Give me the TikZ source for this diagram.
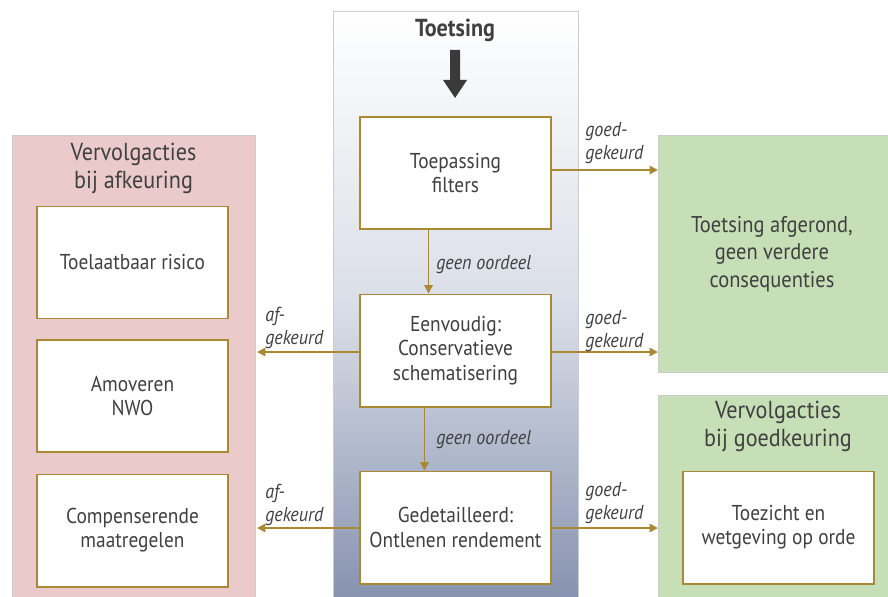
\documentclass[tikz,border=0pt]{standalone}
\usepackage{fontspec}
\setmainfont{PT Sans}[FakeStretch=0.9]
\usepackage{tikz}
\usetikzlibrary{arrows.meta, calc, positioning}
\definecolor{gold}{RGB}{169, 137, 52}
\definecolor{pinkpanel}{RGB}{235, 202, 203}
\definecolor{greenpanel}{RGB}{198, 223, 182}
\definecolor{panelline}{RGB}{205, 205, 205}
\definecolor{darktext}{RGB}{64, 64, 64}
\definecolor{bluegray}{RGB}{134, 146, 175}

\begin{document}
\begin{tikzpicture}[x=0.025cm, y=-0.025cm, line join=miter, >={Triangle[length=6pt,width=6pt]},
    font=\fontsize{15.3}{17.2}\selectfont, text=darktext,
    stepbox/.style={draw=gold, line width=1.4pt, fill=white, minimum width=4.775cm, minimum height=2.8cm, align=center, inner sep=0pt},
    flow/.style={->, gold, line width=1.3pt},
    flowlabel/.style={font=\fontsize{14.3}{16.2}\selectfont\itshape, align=left, inner sep=0pt},
    paneltitle/.style={font=\fontsize{17.5}{19.4}\selectfont, align=center}]
    	\useasboundingbox (0,0) rectangle (888,597);
    	
    	% panels
		\draw [panelline, fill=pinkpanel] (12,135) rectangle (255,600);
		\shade [top color=white, bottom color=bluegray, middle color={rgb,255:red,218;green,222;blue,232}] (333,11) rectangle (578,600);
		\draw [panelline] (333,11) rectangle (578,600);
		\draw [panelline, fill=greenpanel] (658,135) rectangle (891,372);
		\draw [panelline, fill=greenpanel] (658,395) rectangle (891,600);
		
		% middle column
		\node (toetsing) [font=\fontsize{17.5}{19}\selectfont\bfseries] at (455,30) {Toetsing};
		\fill [darktext!90!black] (450,50) -- (460,50) -- (460,80) -- (467,80) -- (455,98) -- (443,80) -- (450,80) -- cycle;
		
		\node (filters) [stepbox] at (455.5,173) {Toepassing\\filters};
		\node (simple) [stepbox] at (455.5,350.5) {Eenvoudig:\\Conservatieve\\schematisering};
		\node (detail) [stepbox] at (455.5,527.5) {Gedetailleerd:\\Ontlenen rendement};
		
		% left column
		\node (afkeur) [paneltitle] at (133.5,168.5) {Vervolgacties\\bij afkeuring};
		\node (risico) [stepbox] at (132.5,262.5) {Toelaatbaar risico};
		\node (amoveren) [stepbox] at (132.5,396) {Amoveren\\NWO};
		\node (compens) [stepbox] at (132.5,530.5) {Compenserende\\maatregelen};
		
		% right column
		\node (afgerond) [font=\fontsize{16.2}{19.5}\selectfont, align=center] at (772,254) {Toetsing afgerond,\\geen verdere\\consequenties};
		\node (goedkeur) [paneltitle] at (778,426.5) {Vervolgacties\\bij goedkeuring};
		\node (toezicht) [stepbox] at (778.5,527.5) {Toezicht en\\wetgeving op orde};
		
		\coordinate (leftend1) at (257,352);
		\coordinate (leftend2) at (257,528);
		\coordinate (rightend1) at (658,170);
		\coordinate (rightend2) at (658,352);
		\coordinate (rightend3) at (658,528);
		
		% connectors
		\draw [flow] ([xshift=-0.675cm]filters.south) -- ([xshift=-0.675cm]simple.north);
		\draw [flow] ([xshift=-0.775cm]simple.south) -- ([xshift=-0.775cm]detail.north);
		\draw [flow] (filters.east |- rightend1) -- (rightend1);
		\draw [flow] (simple.east |- rightend2) -- (rightend2);
		\draw [flow] (detail.east |- rightend3) -- (rightend3);
		\draw [flow] (simple.west |- leftend1) -- (leftend1);
		\draw [flow] (detail.west |- leftend2) -- (leftend2);
		
		% labels
		\node (geen1) [flowlabel, anchor=west] at (436,265) {geen oordeel};
		\node (geen2) [flowlabel, anchor=west] at (436,440) {geen oordeel};
		\node (goed1) [flowlabel, anchor=west] at (585,143) {goed-\\gekeurd};
		\node (goed2) [flowlabel, anchor=west] at (585,331) {goed-\\gekeurd};
		\node (goed3) [flowlabel, anchor=west] at (585,503) {goed-\\gekeurd};
		\node (af1) [flowlabel, anchor=west] at (265,328) {af-\\gekeurd};
		\node (af2) [flowlabel, anchor=west] at (265,505) {af-\\gekeurd};
    \end{tikzpicture}
\end{document}
